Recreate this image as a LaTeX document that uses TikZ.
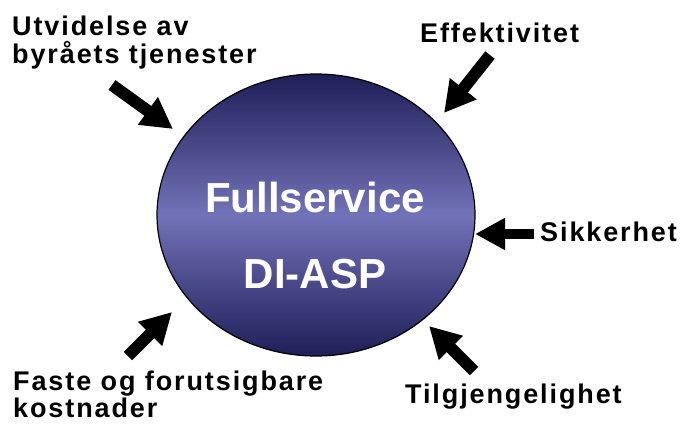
\documentclass[tikz,border=0pt]{standalone}
\usepackage{fontspec}
\setmainfont{Liberation Sans}
\newfontfamily\labfont[LetterSpace=7]{Liberation Sans}
\usetikzlibrary{arrows.meta}
\definecolor{navy}{HTML}{1E1E58}
\definecolor{lilac}{HTML}{7272B8}
\tikzset{
  lab/.style={font=\labfont\bfseries\fontsize{27}{28}\selectfont, inner sep=0pt, anchor=base west, align=left},
  blockarrow/.style={line width=12pt, line cap=butt, -{Triangle[width=32pt,length=31pt]}},
  centertext/.style={font=\bfseries\fontsize{42}{46}\selectfont, text=white, inner sep=0pt, anchor=base}
}
\begin{document}
\begin{tikzpicture}[x=1pt,y=-1pt]
\useasboundingbox (0,0) rectangle (684,423);
% central ellipse
\shade[top color=navy, bottom color=navy, middle color=lilac] (316,215) ellipse [x radius=159, y radius=141];
\draw[line width=1.2pt] (316,215) ellipse [x radius=159, y radius=141];
\node[centertext] (t1) at (315,212) {Fullservice};
\node[centertext] (t2) at (315,288) {DI-ASP};
% labels (multi-line nodes: base = last line's baseline)
\node[lab] (l1) at (12,63) {Utvidelse av\\byråets tjenester};
\node[lab] (l2) at (420,42) {Effektivitet};
\node[lab] (l3) at (540,241) {Sikkerhet};
\node[lab] (l4) at (405,403) {Tilgjengelighet};
\node[lab, font=\labfont\bfseries\fontsize{27}{24}\selectfont] (l5) at (13,417) {Faste og forutsigbare\\kostnader};
% arrow ends
\coordinate (a1s) at (112,85);  \coordinate (a1e) at (173,129);
\coordinate (a2s) at (490,55);  \coordinate (a2e) at (444,113);
\coordinate (a3s) at (534,234); \coordinate (a3e) at (475,234);
\coordinate (a4s) at (128,356); \coordinate (a4e) at (172,312);
\coordinate (a5s) at (474,371); \coordinate (a5e) at (429,326);
\draw[blockarrow] (a1s) -- (a1e);
\draw[blockarrow] (a2s) -- (a2e);
\draw[blockarrow, line width=10pt, -{Triangle[width=30pt,length=30pt]}] (a3s) -- (a3e);
\draw[blockarrow] (a4s) -- (a4e);
\draw[blockarrow] (a5s) -- (a5e);
\end{tikzpicture}
\end{document}
